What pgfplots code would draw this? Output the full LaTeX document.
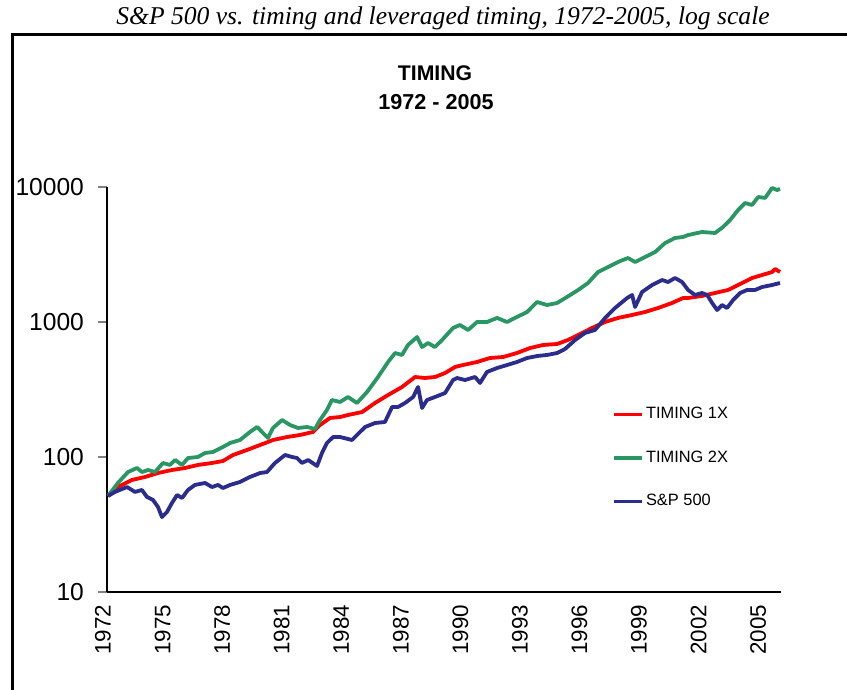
\documentclass[border=0pt]{standalone}
\usepackage{fontspec}
\setmainfont{Liberation Sans}
\newfontfamily\timesfont{Liberation Serif}
\usepackage{pgfplots}
\pgfplotsset{compat=1.18}
\definecolor{tred}{RGB}{255,0,0}
\definecolor{tgreen}{RGB}{41,150,99}
\definecolor{tblue}{RGB}{43,45,140}
\begin{document}
\begin{tikzpicture}
\useasboundingbox (0pt,0pt) rectangle (423.5pt,345pt);
\clip (0pt,0pt) rectangle (423.5pt,345pt);
\draw[line width=1.5pt] (6pt,-5pt) -- (6pt,327.5pt) -- (430pt,327.5pt);
\node[font=\timesfont\itshape\fontsize{12.8}{14}\selectfont] at (221.5pt,336pt) {S\&P 500 vs. timing and leveraged timing, 1972-2005, log scale};
\node[font=\bfseries\fontsize{10.6}{12}\selectfont] at (217.5pt,308.5pt) {TIMING};
\node[font=\bfseries\fontsize{10.8}{12}\selectfont] at (218pt,294pt) {1972 - 2005};
\begin{axis}[
  at={(53.5pt,49pt)}, anchor=south west,
  scale only axis, width=337pt, height=202.5pt,
  ymode=log, ymin=10, ymax=10000,
  xmin=1971.95, xmax=2005.9,
  axis x line*=bottom, axis y line*=left,
  axis line style={line width=0.9pt},
  ytick={10,100,1000,10000}, yticklabels={10,100,1000,10000},
  yminorticks=false,
  tick align=outside, major tick length=4.5pt,
  ytick style={line width=0.9pt},
  xtick={1972,1975,1978,1981,1984,1987,1990,1993,1996,1999,2002,2005},
  xticklabels={1972,1975,1978,1981,1984,1987,1990,1993,1996,1999,2002,2005},
  xtick style={draw=none},
  xticklabel style={xshift=-2.5pt, yshift=1.5pt, rotate=90, anchor=east, font=\fontsize{11.2}{13}\selectfont},
  yticklabel style={xshift=-3.5pt, font=\fontsize{12.3}{14}\selectfont},
  legend style={draw=none, fill=none, at={(0.749,0.462)}, anchor=north west,
    font=\fontsize{8.2}{10}\selectfont, row sep=12.5pt, inner sep=0pt,
    nodes={inner sep=1pt}},
  legend cell align=left,
  legend image code/.code={\draw[#1] (0pt,0pt) -- (14pt,0pt);},
  every axis plot/.append style={no markers, line width=1.9pt, line join=round},
]
\addplot[color=tred] coordinates {
(1972.00,51.4) (1972.50,59.9) (1973.21,67.6) (1973.86,71.1) (1974.52,76.1) (1975.22,80.1)
(1975.88,82.9) (1976.53,87.3) (1977.24,90.3) (1977.79,93.4) (1978.30,103.5) (1979.00,112.7)
(1979.66,122.7) (1980.06,129.2) (1980.31,133.6) (1981.02,140.6) (1981.67,145.6) (1982.33,153.2)
(1982.68,172.6) (1983.18,194.5) (1983.69,197.8) (1984.09,204.7) (1984.80,215.4) (1985.45,251.2)
(1986.11,287.9) (1986.81,330.0) (1987.47,391.4) (1987.97,384.8) (1988.47,391.4) (1988.98,419.0)
(1989.48,464.2) (1989.88,479.9) (1990.59,505.6) (1991.24,541.0) (1991.90,550.3) (1992.60,589.2)
(1993.26,641.6) (1993.91,675.5) (1994.62,687.1) (1995.17,735.8) (1995.68,801.1) (1996.38,903)
(1997.04,1000) (1997.69,1071) (1998.40,1127) (1999.05,1186) (1999.71,1270) (2000.41,1383)
(2000.97,1506) (2001.22,1506) (2001.92,1558) (2002.58,1641) (2003.23,1726) (2003.94,1945)
(2004.44,2118) (2004.95,2229) (2005.45,2344) (2005.60,2471) (2005.85,2344)
};
\addlegendentry{TIMING 1X}
\addplot[color=tgreen] coordinates {
(1972.00,51.4) (1972.50,64.2) (1973.01,77.4) (1973.46,82.9) (1973.71,77.4) (1974.02,80.1)
(1974.37,77.4) (1974.77,90.3) (1975.12,87.3) (1975.38,95.0) (1975.73,87.3) (1976.03,98.3)
(1976.53,100) (1976.89,107.1) (1977.29,108.9) (1977.79,118.6) (1978.15,127.0) (1978.65,133.6)
(1979.15,153.2) (1979.51,166.8) (1979.81,150.6) (1980.06,138.3) (1980.31,164.0) (1980.77,188.0)
(1981.17,172.6) (1981.57,164.0) (1982.03,166.8) (1982.43,161.2) (1982.68,188.0) (1983.03,222.9)
(1983.28,264.4) (1983.69,255.5) (1984.09,278.2) (1984.54,251.2) (1985.05,303.1) (1985.60,391.4)
(1986.11,505.6) (1986.46,589.2) (1986.81,569.9) (1987.11,675.5) (1987.57,774.0) (1987.82,652.6)
(1988.12,698.8) (1988.47,652.6) (1988.83,735.8) (1989.38,903) (1989.73,950.4) (1990.14,872.6)
(1990.59,1000) (1991.09,1000) (1991.60,1071) (1992.10,1000) (1992.60,1089) (1993.11,1186)
(1993.61,1406) (1994.12,1336) (1994.62,1383) (1995.12,1531) (1995.68,1726) (1996.18,1945)
(1996.68,2344) (1997.19,2555) (1997.69,2782) (1998.19,2980) (1998.55,2782) (1999.05,3029)
(1999.56,3300) (2000.06,3848) (2000.56,4190) (2000.97,4266) (2001.22,4407) (2001.92,4642)
(2002.58,4563) (2002.98,5055) (2003.34,5700) (2003.74,6760) (2004.09,7610) (2004.44,7360)
(2004.75,8430) (2005.10,8300) (2005.45,9840) (2005.70,9500) (2005.85,9670)
};
\addlegendentry{TIMING 2X}
\addplot[color=tblue] coordinates {
(1972.00,51.4) (1972.35,55.1) (1972.96,59.9) (1973.36,55.1) (1973.71,57.0) (1973.96,50.6)
(1974.27,48.0) (1974.52,42.6) (1974.72,35.9) (1974.97,39.1) (1975.22,45.6) (1975.48,52.3)
(1975.73,49.7) (1976.03,57.0) (1976.38,62.1) (1976.89,64.2) (1977.24,59.9) (1977.54,62.1)
(1977.79,58.9) (1978.15,62.1) (1978.65,65.3) (1979.15,71.1) (1979.66,76.1) (1980.01,77.4)
(1980.41,90.3) (1980.92,103.5) (1981.27,100) (1981.52,98.3) (1981.77,90.3) (1982.08,95.0)
(1982.53,85.8) (1982.78,107.1) (1983.03,127.0) (1983.34,140.6) (1983.69,140.6) (1984.29,133.6)
(1984.95,166.8) (1985.45,178.6) (1985.95,181.6) (1986.31,234.6) (1986.61,234.6) (1986.96,251.2)
(1987.37,278.2) (1987.62,330.0) (1987.82,230.6) (1988.07,264.4) (1988.47,278.2) (1988.98,297.9)
(1989.38,371.7) (1989.58,384.8) (1989.98,371.7) (1990.49,391.4) (1990.74,353.4) (1991.09,426.6)
(1991.60,456.3) (1992.10,479.9) (1992.60,505.6) (1993.11,541.0) (1993.61,559.8) (1994.12,569.9)
(1994.62,589.2) (1995.02,631) (1995.53,735.8) (1996.03,829.4) (1996.53,872.6) (1997.04,1071)
(1997.54,1270) (1998.15,1506) (1998.40,1585) (1998.55,1291) (1998.90,1668) (1999.41,1879)
(1999.91,2047) (2000.21,1977) (2000.56,2118) (2000.92,1977) (2001.22,1726) (2001.57,1585)
(2001.92,1641) (2002.18,1585) (2002.43,1383) (2002.68,1227) (2002.93,1336) (2003.18,1270)
(2003.49,1455) (2003.84,1641) (2004.19,1726) (2004.59,1726) (2004.95,1816) (2005.45,1879)
(2005.85,1945)
};
\addlegendentry{S\&P 500}
\end{axis}
\end{tikzpicture}
\end{document}
